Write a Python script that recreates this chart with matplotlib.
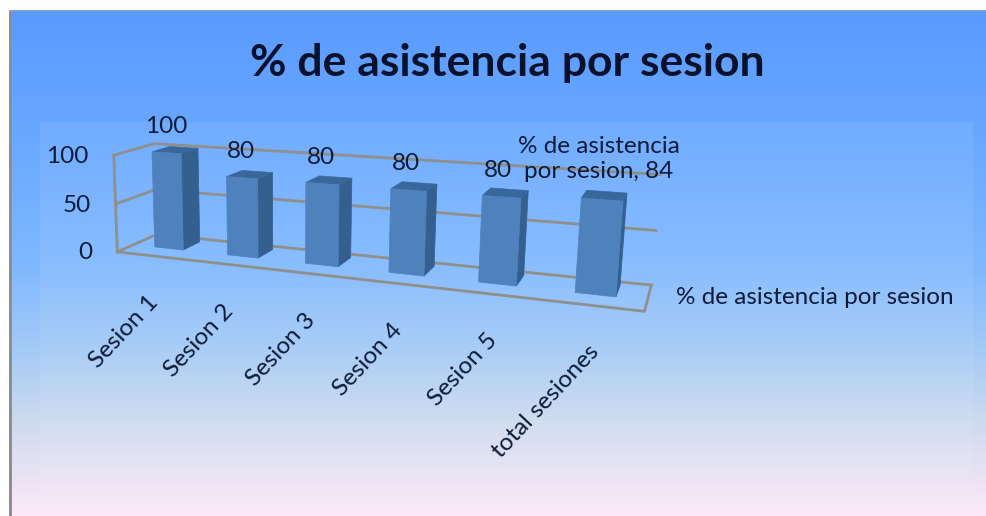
import numpy as np
import matplotlib
matplotlib.use("Agg")
import matplotlib.pyplot as plt
from matplotlib.colors import LinearSegmentedColormap
from matplotlib.patches import Polygon, Rectangle

# ---- data ----
categories = ["Sesion 1", "Sesion 2", "Sesion 3", "Sesion 4", "Sesion 5", "total sesiones"]
values = [100, 80, 80, 80, 80, 84]
series_name = "% de asistencia por sesion"
title = "% de asistencia por sesion"
z_ticks = [0, 50, 100]

# ---- camera calibration: (category, depth, value) -> (pixel x, pixel y) ----
calib = [
    (0, 0, 0, 120, 251), (0, 0, 50, 116, 203), (0, 0, 100, 112, 154),
    (0, 1, 0, 153, 237), (0, 1, 50, 152, 191), (0, 1, 100, 163, 142),
    (6, 0, 0, 645, 312), (6, 1, 0, 651, 281), (6, 1, 50, 656, 228), (6, 1, 100, 661, 176),
    (0.3, .4, 0, 156, 247), (0.7, .4, 0, 184, 249),
    (0.3, .4, 100, 150, 152), (0.7, .4, 100, 178, 154),
    (5.3, .4, 0, 575, 293), (5.7, .4, 0, 617, 298),
    (5.3, .4, 84, 580, 200), (5.7, .4, 84, 623, 202),
    (1.3, .4, 0, 228, 255), (2.3, .4, 0, 306, 263), (4.3, .4, 0, 478, 283),
]
A = []
b = []
for x, d, z, u, v in calib:
    A.append([x, d, z, 1, 0, 0, 0, 0, -u * x, -u * d, -u * z])
    b.append(u)
    A.append([0, 0, 0, 0, x, d, z, 1, -v * x, -v * d, -v * z])
    b.append(v)
P = np.append(np.linalg.lstsq(np.array(A, float), np.array(b, float), rcond=None)[0], 1).reshape(3, 4)


def proj(x, d, z):
    u, v, w = P @ np.array([x, d, z, 1.0])
    return u / w, v / w


fig = plt.figure(figsize=(9.87, 5.16), dpi=100, facecolor="white")
ax = fig.add_axes([0, 0, 1, 1])
ax.set_xlim(0, 987)
ax.set_ylim(516, 0)
ax.axis("off")
plt.rcParams["font.family"] = ["Lato", "DejaVu Sans"]

# ---- backgrounds ----
bg = LinearSegmentedColormap.from_list("bg", [
    (0.00, "#5A9AFF"), (0.25, "#69A8FF"), (0.50, "#7FB8FF"),
    (0.68, "#A6CBF6"), (0.82, "#CFDBEE"), (1.00, "#FDE9F9")])
grad = np.linspace(0, 1, 512).reshape(-1, 1)
ax.imshow(grad, cmap=bg, extent=(10, 987, 516, 10), aspect="auto", zorder=0)
ax.set_xlim(0, 987)
ax.set_ylim(516, 0)
ax.add_patch(Rectangle((9, 10), 2.5, 506, color="#8E8E8E", lw=0, zorder=1))
ax.add_patch(Rectangle((9, 9.5), 978, 1.2, color="#9AA4B5", lw=0, zorder=1))
ax.add_patch(Rectangle((40, 122), 933, 370, color="#FFFFFF", alpha=0.07, lw=0, zorder=1))

# ---- 3D box ----
n = len(categories)
GRID = "#8F8F8C"
for z in z_ticks:
    pts = [proj(0, 0, z), proj(0, 1, z), proj(n, 1, z)]
    ax.plot(*zip(*pts), color=GRID, lw=2, zorder=2, solid_joinstyle="miter")
ax.plot(*zip(proj(0, 0, 0), proj(0, 0, 100)), color=GRID, lw=2, zorder=2)
ax.plot(*zip(proj(0, 0, 0), proj(n, 0, 0), proj(n, 1, 0)), color=GRID, lw=2, zorder=2)

TXT = "#0B1B38"
for z in z_ticks:
    u, v = proj(0, 0, z)
    ax.text(u - 25, v + 1, str(z), ha="right", va="center", fontsize=17.5, color=TXT, zorder=6)

# ---- bars ----
FRONT, SIDE, TOP = "#4F81BD", "#33608F", "#38689B"
G, D0, D1 = 0.3, 0.4, 0.85
for i, val in enumerate(values):
    x0, x1 = i + G, i + 1 - G
    ax.add_patch(Polygon([proj(x1, D0, 0), proj(x1, D1, 0), proj(x1, D1, val), proj(x1, D0, val)],
                         fc=SIDE, ec=SIDE, lw=0.5, zorder=3))
    ax.add_patch(Polygon([proj(x0, D0, val), proj(x1, D0, val), proj(x1, D1, val), proj(x0, D1, val)],
                         fc=TOP, ec=TOP, lw=0.5, zorder=3))
    ax.add_patch(Polygon([proj(x0, D0, 0), proj(x1, D0, 0), proj(x1, D0, val), proj(x0, D0, val)],
                         fc=FRONT, ec=FRONT, lw=0.5, zorder=4))
    # value label
    u, v = proj(i + 0.5, 0.55, val)
    if i < n - 1:
        ax.text(u - 6, v - 24, str(val), ha="center", va="center", fontsize=17.5, color=TXT, zorder=6)
    else:
        ax.text(u - 5, v - 38, f"% de asistencia\npor sesion, {val}", ha="center", va="center",
                fontsize=17.5, color=TXT, zorder=6, linespacing=1.2)
    # category label
    u, v = proj(i + 0.6, 0, 0)
    ax.text(u - 14, v + 35, categories[i], rotation=47, rotation_mode="anchor", ha="right", va="top",
            fontsize=17.5, color=TXT, zorder=6)

ax.text(815, 297, series_name, ha="center", va="center", fontsize=17.5, color=TXT, zorder=6)
ax.text(507, 63, title, ha="center", va="center", fontsize=32, fontweight="bold", color="#06122B", zorder=6)

fig.savefig("out.png", dpi=100)
